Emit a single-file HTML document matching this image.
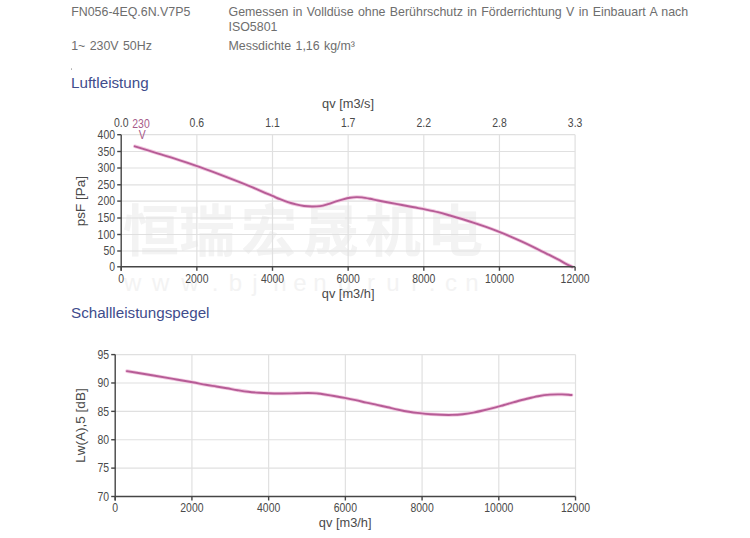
<!DOCTYPE html>
<html lang="de">
<head>
<meta charset="utf-8">
<title>FN056-4EQ.6N.V7P5</title>
<style>
html,body{margin:0;padding:0;background:#fff;}
body{width:750px;height:538px;position:relative;overflow:hidden;font-family:"Liberation Sans",Arial,sans-serif;}
.h{position:absolute;font-size:12.4px;line-height:15.2px;color:#6e6e6e;white-space:nowrap;word-spacing:0.9px;}
.t{position:absolute;font-size:15.2px;line-height:17px;color:#404c8c;white-space:nowrap;}
.dot{position:absolute;left:70.5px;top:68.3px;width:1.6px;height:1.6px;border-radius:50%;background:#b0b0b0;}
.charts{position:absolute;left:0;top:0;}
</style>
</head>
<body>
<div class="h" style="left:71.2px;top:4.7px;">FN056-4EQ.6N.V7P5</div>
<div class="h" style="left:228.5px;top:4.7px;">Gemessen in Volldüse ohne Berührschutz in Förderrichtung V in Einbauart A nach<br>ISO5801</div>
<div class="h" style="left:71.2px;top:39.3px;">1~ 230V 50Hz</div>
<div class="h" style="left:228.5px;top:39.3px;">Messdichte 1,16 kg/m³</div>
<div class="dot"></div>
<div class="t" style="left:71px;top:74.4px;">Luftleistung</div>
<div class="t" style="left:71px;top:304.1px;">Schallleistungspegel</div>
<svg class="charts" width="750" height="538" viewBox="0 0 750 538"><g fill="#f3f3f3" font-family="Liberation Sans, Noto Sans CJK SC, sans-serif"><text x="151" y="251" font-size="56" font-weight="bold" text-anchor="middle">恒</text><text x="207" y="251" font-size="56" font-weight="bold" text-anchor="middle">瑞</text><text x="269" y="251" font-size="56" font-weight="bold" text-anchor="middle">宏</text><text x="331" y="251" font-size="56" font-weight="bold" text-anchor="middle">晟</text><text x="393" y="251" font-size="56" font-weight="bold" text-anchor="middle">机</text><text x="455" y="251" font-size="56" font-weight="bold" text-anchor="middle">电</text><text x="132.6" y="291" font-size="24" text-anchor="middle">w</text><text x="160.6" y="291" font-size="24" text-anchor="middle">w</text><text x="190" y="291" font-size="24" text-anchor="middle">w</text><text x="215" y="291" font-size="24" text-anchor="middle">.</text><text x="235.5" y="291" font-size="24" text-anchor="middle">b</text><text x="255" y="291" font-size="24" text-anchor="middle">j</text><text x="280" y="291" font-size="24" text-anchor="middle">h</text><text x="300" y="291" font-size="24" text-anchor="middle">e</text><text x="320" y="291" font-size="24" text-anchor="middle">n</text><text x="345" y="291" font-size="24" text-anchor="middle">g</text><text x="371" y="291" font-size="24" text-anchor="middle">r</text><text x="393" y="291" font-size="24" text-anchor="middle">u</text><text x="414" y="291" font-size="24" text-anchor="middle">i</text><text x="432" y="291" font-size="24" text-anchor="middle">.</text><text x="451" y="291" font-size="24" text-anchor="middle">c</text><text x="472" y="291" font-size="24" text-anchor="middle">n</text></g>
<g stroke="#e0e0e0" stroke-width="1.2"><line x1="121.2" y1="251" x2="575.1" y2="251"/><line x1="121.2" y1="234.5" x2="575.1" y2="234.5"/><line x1="121.2" y1="218" x2="575.1" y2="218"/><line x1="121.2" y1="201.1" x2="575.1" y2="201.1"/><line x1="121.2" y1="184.8" x2="575.1" y2="184.8"/><line x1="121.2" y1="168" x2="575.1" y2="168"/><line x1="121.2" y1="151.5" x2="575.1" y2="151.5"/><line x1="121.2" y1="134.7" x2="575.1" y2="134.7"/><line x1="196.85" y1="134.7" x2="196.85" y2="266.8"/><line x1="272.5" y1="134.7" x2="272.5" y2="266.8"/><line x1="348.15" y1="134.7" x2="348.15" y2="266.8"/><line x1="423.8" y1="134.7" x2="423.8" y2="266.8"/><line x1="499.45" y1="134.7" x2="499.45" y2="266.8"/><line x1="575.1" y1="134.7" x2="575.1" y2="266.8"/></g>
<path d="M134.8,146.29 C139.2,147.63 143.63,148.95 148,150.3 C152.37,151.65 156.67,153.05 161,154.4 C165.33,155.75 169.67,157.02 174,158.4 C178.33,159.78 182.67,161.23 187,162.7 C191.33,164.17 195.67,165.67 200,167.2 C204.33,168.73 208.67,170.3 213,171.9 C217.33,173.5 221.67,175.13 226,176.8 C230.33,178.47 234.67,180.17 239,181.9 C243.33,183.63 247.67,185.39 252,187.2 C256.33,189.01 261.58,191.31 265,192.76 C268.42,194.21 270,194.83 272.5,195.9 C275,196.97 277.42,198.15 280,199.2 C282.58,200.25 285.33,201.33 288,202.2 C290.67,203.07 293.33,203.77 296,204.4 C298.67,205.03 301.33,205.65 304,206 C306.67,206.35 309.33,206.48 312,206.5 C314.67,206.52 317.33,206.5 320,206.1 C322.67,205.7 325.33,204.88 328,204.1 C330.67,203.32 333.5,202.18 336,201.4 C338.5,200.62 340.67,200 343,199.4 C345.33,198.8 347.77,198.18 350,197.8 C352.23,197.42 354.4,197.17 356.4,197.1 C358.4,197.03 359.73,197.12 362,197.4 C364.27,197.68 367.33,198.28 370,198.8 C372.67,199.32 374.67,199.83 378,200.5 C381.33,201.17 386,202.05 390,202.8 C394,203.55 398,204.25 402,205 C406,205.75 410,206.53 414,207.3 C418,208.07 422,208.78 426,209.6 C430,210.42 434,211.22 438,212.2 C442,213.18 446,214.37 450,215.5 C454,216.63 458,217.78 462,219 C466,220.22 470,221.48 474,222.8 C478,224.12 482,225.47 486,226.9 C490,228.33 494,229.83 498,231.4 C502,232.97 506,234.6 510,236.3 C514,238 518,239.77 522,241.6 C526,243.43 530,245.35 534,247.3 C538,249.25 542,251.28 546,253.3 C550,255.32 554.67,257.63 558,259.4 C561.33,261.17 563.62,262.67 566,263.9 C568.38,265.13 570.2,265.83 572.3,266.8" fill="none" stroke="#f2c8e0" stroke-width="3.6" stroke-linecap="round" stroke-linejoin="round"/>
<path d="M134.8,146.29 C139.2,147.63 143.63,148.95 148,150.3 C152.37,151.65 156.67,153.05 161,154.4 C165.33,155.75 169.67,157.02 174,158.4 C178.33,159.78 182.67,161.23 187,162.7 C191.33,164.17 195.67,165.67 200,167.2 C204.33,168.73 208.67,170.3 213,171.9 C217.33,173.5 221.67,175.13 226,176.8 C230.33,178.47 234.67,180.17 239,181.9 C243.33,183.63 247.67,185.39 252,187.2 C256.33,189.01 261.58,191.31 265,192.76 C268.42,194.21 270,194.83 272.5,195.9 C275,196.97 277.42,198.15 280,199.2 C282.58,200.25 285.33,201.33 288,202.2 C290.67,203.07 293.33,203.77 296,204.4 C298.67,205.03 301.33,205.65 304,206 C306.67,206.35 309.33,206.48 312,206.5 C314.67,206.52 317.33,206.5 320,206.1 C322.67,205.7 325.33,204.88 328,204.1 C330.67,203.32 333.5,202.18 336,201.4 C338.5,200.62 340.67,200 343,199.4 C345.33,198.8 347.77,198.18 350,197.8 C352.23,197.42 354.4,197.17 356.4,197.1 C358.4,197.03 359.73,197.12 362,197.4 C364.27,197.68 367.33,198.28 370,198.8 C372.67,199.32 374.67,199.83 378,200.5 C381.33,201.17 386,202.05 390,202.8 C394,203.55 398,204.25 402,205 C406,205.75 410,206.53 414,207.3 C418,208.07 422,208.78 426,209.6 C430,210.42 434,211.22 438,212.2 C442,213.18 446,214.37 450,215.5 C454,216.63 458,217.78 462,219 C466,220.22 470,221.48 474,222.8 C478,224.12 482,225.47 486,226.9 C490,228.33 494,229.83 498,231.4 C502,232.97 506,234.6 510,236.3 C514,238 518,239.77 522,241.6 C526,243.43 530,245.35 534,247.3 C538,249.25 542,251.28 546,253.3 C550,255.32 554.67,257.63 558,259.4 C561.33,261.17 563.62,262.67 566,263.9 C568.38,265.13 570.2,265.83 572.3,266.8" fill="none" stroke="#b65c96" stroke-width="1.9" stroke-linecap="round" stroke-linejoin="round"/>
<g stroke="#454545" stroke-width="1.4"><line x1="121.2" y1="134.7" x2="121.2" y2="270.8"/><line x1="121.2" y1="266.8" x2="575.1" y2="266.8"/><line x1="117.2" y1="266.8" x2="121.2" y2="266.8"/><line x1="117.2" y1="251" x2="121.2" y2="251"/><line x1="117.2" y1="234.5" x2="121.2" y2="234.5"/><line x1="117.2" y1="218" x2="121.2" y2="218"/><line x1="117.2" y1="201.1" x2="121.2" y2="201.1"/><line x1="117.2" y1="184.8" x2="121.2" y2="184.8"/><line x1="117.2" y1="168" x2="121.2" y2="168"/><line x1="117.2" y1="151.5" x2="121.2" y2="151.5"/><line x1="117.2" y1="134.7" x2="121.2" y2="134.7"/><line x1="121.2" y1="266.8" x2="121.2" y2="270.8"/><line x1="196.85" y1="266.8" x2="196.85" y2="270.8"/><line x1="272.5" y1="266.8" x2="272.5" y2="270.8"/><line x1="348.15" y1="266.8" x2="348.15" y2="270.8"/><line x1="423.8" y1="266.8" x2="423.8" y2="270.8"/><line x1="499.45" y1="266.8" x2="499.45" y2="270.8"/><line x1="575.1" y1="266.8" x2="575.1" y2="270.8"/></g>
<g font-family="Liberation Sans, sans-serif"><text transform="translate(115,271) scale(0.87,1)" font-size="12" text-anchor="end" fill="#4a4a4a">0</text><text transform="translate(115,255.2) scale(0.87,1)" font-size="12" text-anchor="end" fill="#4a4a4a">50</text><text transform="translate(115,238.7) scale(0.87,1)" font-size="12" text-anchor="end" fill="#4a4a4a">100</text><text transform="translate(115,222.2) scale(0.87,1)" font-size="12" text-anchor="end" fill="#4a4a4a">150</text><text transform="translate(115,205.3) scale(0.87,1)" font-size="12" text-anchor="end" fill="#4a4a4a">200</text><text transform="translate(115,189) scale(0.87,1)" font-size="12" text-anchor="end" fill="#4a4a4a">250</text><text transform="translate(115,172.2) scale(0.87,1)" font-size="12" text-anchor="end" fill="#4a4a4a">300</text><text transform="translate(115,155.7) scale(0.87,1)" font-size="12" text-anchor="end" fill="#4a4a4a">350</text><text transform="translate(115,138.9) scale(0.87,1)" font-size="12" text-anchor="end" fill="#4a4a4a">400</text><text transform="translate(121.2,283) scale(0.87,1)" font-size="12" text-anchor="middle" fill="#4a4a4a">0</text><text transform="translate(196.85,283) scale(0.87,1)" font-size="12" text-anchor="middle" fill="#4a4a4a">2000</text><text transform="translate(272.5,283) scale(0.87,1)" font-size="12" text-anchor="middle" fill="#4a4a4a">4000</text><text transform="translate(348.15,283) scale(0.87,1)" font-size="12" text-anchor="middle" fill="#4a4a4a">6000</text><text transform="translate(423.8,283) scale(0.87,1)" font-size="12" text-anchor="middle" fill="#4a4a4a">8000</text><text transform="translate(499.45,283) scale(0.87,1)" font-size="12" text-anchor="middle" fill="#4a4a4a">10000</text><text transform="translate(575.1,283) scale(0.87,1)" font-size="12" text-anchor="middle" fill="#4a4a4a">12000</text><text transform="translate(121.2,126.7) scale(0.87,1)" font-size="12" text-anchor="middle" fill="#4a4a4a">0.0</text><text transform="translate(196.85,126.7) scale(0.87,1)" font-size="12" text-anchor="middle" fill="#4a4a4a">0.6</text><text transform="translate(272.5,126.7) scale(0.87,1)" font-size="12" text-anchor="middle" fill="#4a4a4a">1.1</text><text transform="translate(348.15,126.7) scale(0.87,1)" font-size="12" text-anchor="middle" fill="#4a4a4a">1.7</text><text transform="translate(423.8,126.7) scale(0.87,1)" font-size="12" text-anchor="middle" fill="#4a4a4a">2.2</text><text transform="translate(499.45,126.7) scale(0.87,1)" font-size="12" text-anchor="middle" fill="#4a4a4a">2.8</text><text transform="translate(575.1,126.7) scale(0.87,1)" font-size="12" text-anchor="middle" fill="#4a4a4a">3.3</text><text transform="translate(141,128) scale(0.87,1)" font-size="12" text-anchor="middle" fill="#a65a8a">230</text><text transform="translate(142.2,139.3) scale(0.87,1)" font-size="12" text-anchor="middle" fill="#a65a8a">V</text><text transform="translate(348.1,107.6) scale(0.95,1)" font-size="13.5" text-anchor="middle" fill="#4a4a4a">qv [m3/s]</text><text transform="translate(348.1,298) scale(0.95,1)" font-size="13.5" text-anchor="middle" fill="#4a4a4a">qv [m3/h]</text><text transform="translate(84.7,201.2) rotate(-90)" font-size="13.5" text-anchor="middle" fill="#4a4a4a">psF [Pa]</text></g>
<g stroke="#e0e0e0" stroke-width="1.2"><line x1="115.2" y1="468.12" x2="575.52" y2="468.12"/><line x1="115.2" y1="439.74" x2="575.52" y2="439.74"/><line x1="115.2" y1="411.36" x2="575.52" y2="411.36"/><line x1="115.2" y1="382.98" x2="575.52" y2="382.98"/><line x1="115.2" y1="354.6" x2="575.52" y2="354.6"/><line x1="191.92" y1="354.6" x2="191.92" y2="496.5"/><line x1="268.64" y1="354.6" x2="268.64" y2="496.5"/><line x1="345.36" y1="354.6" x2="345.36" y2="496.5"/><line x1="422.08" y1="354.6" x2="422.08" y2="496.5"/><line x1="498.8" y1="354.6" x2="498.8" y2="496.5"/><line x1="575.52" y1="354.6" x2="575.52" y2="496.5"/></g>
<g stroke="#454545" stroke-width="1.4"><line x1="115.2" y1="354.6" x2="115.2" y2="500.5"/><line x1="115.2" y1="496.5" x2="575.52" y2="496.5"/><line x1="111.2" y1="496.5" x2="115.2" y2="496.5"/><line x1="111.2" y1="468.12" x2="115.2" y2="468.12"/><line x1="111.2" y1="439.74" x2="115.2" y2="439.74"/><line x1="111.2" y1="411.36" x2="115.2" y2="411.36"/><line x1="111.2" y1="382.98" x2="115.2" y2="382.98"/><line x1="111.2" y1="354.6" x2="115.2" y2="354.6"/><line x1="115.2" y1="496.5" x2="115.2" y2="500.5"/><line x1="191.92" y1="496.5" x2="191.92" y2="500.5"/><line x1="268.64" y1="496.5" x2="268.64" y2="500.5"/><line x1="345.36" y1="496.5" x2="345.36" y2="500.5"/><line x1="422.08" y1="496.5" x2="422.08" y2="500.5"/><line x1="498.8" y1="496.5" x2="498.8" y2="500.5"/><line x1="575.52" y1="496.5" x2="575.52" y2="500.5"/></g>
<g font-family="Liberation Sans, sans-serif"><text transform="translate(109.1,500.7) scale(0.87,1)" font-size="12" text-anchor="end" fill="#4a4a4a">70</text><text transform="translate(109.1,472.32) scale(0.87,1)" font-size="12" text-anchor="end" fill="#4a4a4a">75</text><text transform="translate(109.1,443.94) scale(0.87,1)" font-size="12" text-anchor="end" fill="#4a4a4a">80</text><text transform="translate(109.1,415.56) scale(0.87,1)" font-size="12" text-anchor="end" fill="#4a4a4a">85</text><text transform="translate(109.1,387.18) scale(0.87,1)" font-size="12" text-anchor="end" fill="#4a4a4a">90</text><text transform="translate(109.1,358.8) scale(0.87,1)" font-size="12" text-anchor="end" fill="#4a4a4a">95</text><text transform="translate(115.2,512) scale(0.87,1)" font-size="12" text-anchor="middle" fill="#4a4a4a">0</text><text transform="translate(191.92,512) scale(0.87,1)" font-size="12" text-anchor="middle" fill="#4a4a4a">2000</text><text transform="translate(268.64,512) scale(0.87,1)" font-size="12" text-anchor="middle" fill="#4a4a4a">4000</text><text transform="translate(345.36,512) scale(0.87,1)" font-size="12" text-anchor="middle" fill="#4a4a4a">6000</text><text transform="translate(422.08,512) scale(0.87,1)" font-size="12" text-anchor="middle" fill="#4a4a4a">8000</text><text transform="translate(498.8,512) scale(0.87,1)" font-size="12" text-anchor="middle" fill="#4a4a4a">10000</text><text transform="translate(575.52,512) scale(0.87,1)" font-size="12" text-anchor="middle" fill="#4a4a4a">12000</text><text transform="translate(345.2,526.7) scale(0.95,1)" font-size="13.5" text-anchor="middle" fill="#4a4a4a">qv [m3/h]</text><text transform="translate(85,425.5) rotate(-90)" font-size="13.5" text-anchor="middle" fill="#4a4a4a">Lw(A),5 [dB]</text></g>
<path d="M126.9,371.1 C135.27,372.5 144.27,374 152,375.3 C159.73,376.6 166.55,377.73 173.3,378.9 C180.05,380.07 187.1,381.32 192.5,382.3 C197.9,383.28 201.73,384.1 205.7,384.8 C209.67,385.5 212.75,385.92 216.3,386.5 C219.85,387.08 223.43,387.68 227,388.3 C230.57,388.92 234.15,389.62 237.7,390.2 C241.25,390.78 244.75,391.37 248.3,391.8 C251.85,392.23 255.62,392.55 259,392.8 C262.38,393.05 264.98,393.18 268.6,393.3 C272.22,393.42 276.92,393.48 280.7,393.5 C284.48,393.52 287.75,393.47 291.3,393.4 C294.85,393.33 298.43,393.15 302,393.1 C305.57,393.05 310.03,393.03 312.7,393.1 C315.37,393.17 316.23,393.32 318,393.5 C319.77,393.68 320.63,393.78 323.3,394.2 C325.97,394.62 330.43,395.38 334,396 C337.57,396.62 341.08,397.22 344.7,397.9 C348.32,398.58 352.1,399.32 355.7,400.1 C359.3,400.88 362.75,401.8 366.3,402.6 C369.85,403.4 373.43,404.12 377,404.9 C380.57,405.68 384.15,406.5 387.7,407.3 C391.25,408.1 394.75,408.97 398.3,409.7 C401.85,410.43 405.43,411.13 409,411.7 C412.57,412.27 416.08,412.68 419.7,413.1 C423.32,413.52 427.1,413.92 430.7,414.2 C434.3,414.48 437.75,414.68 441.3,414.8 C444.85,414.92 448.43,415 452,414.9 C455.57,414.8 459.15,414.58 462.7,414.2 C466.25,413.82 469.75,413.25 473.3,412.6 C476.85,411.95 480.43,411.13 484,410.3 C487.57,409.47 491.37,408.48 494.7,407.6 C498.03,406.72 500.78,405.9 504,405 C507.22,404.1 510.33,403.2 514,402.2 C517.67,401.2 522,400 526,399 C530,398 534,396.93 538,396.2 C542,395.47 546,394.9 550,394.6 C554,394.3 558.4,394.33 562,394.4 C565.6,394.47 568.4,394.8 571.6,395" fill="none" stroke="#f2c8e0" stroke-width="3.6" stroke-linecap="round" stroke-linejoin="round"/>
<path d="M126.9,371.1 C135.27,372.5 144.27,374 152,375.3 C159.73,376.6 166.55,377.73 173.3,378.9 C180.05,380.07 187.1,381.32 192.5,382.3 C197.9,383.28 201.73,384.1 205.7,384.8 C209.67,385.5 212.75,385.92 216.3,386.5 C219.85,387.08 223.43,387.68 227,388.3 C230.57,388.92 234.15,389.62 237.7,390.2 C241.25,390.78 244.75,391.37 248.3,391.8 C251.85,392.23 255.62,392.55 259,392.8 C262.38,393.05 264.98,393.18 268.6,393.3 C272.22,393.42 276.92,393.48 280.7,393.5 C284.48,393.52 287.75,393.47 291.3,393.4 C294.85,393.33 298.43,393.15 302,393.1 C305.57,393.05 310.03,393.03 312.7,393.1 C315.37,393.17 316.23,393.32 318,393.5 C319.77,393.68 320.63,393.78 323.3,394.2 C325.97,394.62 330.43,395.38 334,396 C337.57,396.62 341.08,397.22 344.7,397.9 C348.32,398.58 352.1,399.32 355.7,400.1 C359.3,400.88 362.75,401.8 366.3,402.6 C369.85,403.4 373.43,404.12 377,404.9 C380.57,405.68 384.15,406.5 387.7,407.3 C391.25,408.1 394.75,408.97 398.3,409.7 C401.85,410.43 405.43,411.13 409,411.7 C412.57,412.27 416.08,412.68 419.7,413.1 C423.32,413.52 427.1,413.92 430.7,414.2 C434.3,414.48 437.75,414.68 441.3,414.8 C444.85,414.92 448.43,415 452,414.9 C455.57,414.8 459.15,414.58 462.7,414.2 C466.25,413.82 469.75,413.25 473.3,412.6 C476.85,411.95 480.43,411.13 484,410.3 C487.57,409.47 491.37,408.48 494.7,407.6 C498.03,406.72 500.78,405.9 504,405 C507.22,404.1 510.33,403.2 514,402.2 C517.67,401.2 522,400 526,399 C530,398 534,396.93 538,396.2 C542,395.47 546,394.9 550,394.6 C554,394.3 558.4,394.33 562,394.4 C565.6,394.47 568.4,394.8 571.6,395" fill="none" stroke="#b65c96" stroke-width="1.9" stroke-linecap="round" stroke-linejoin="round"/></svg>
</body>
</html>
